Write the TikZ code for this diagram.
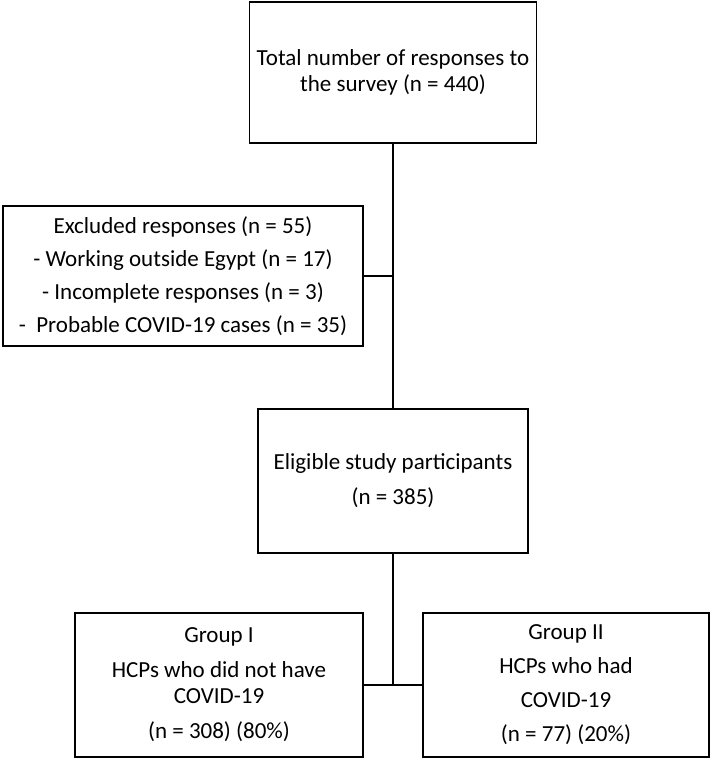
\documentclass[tikz,border=0pt]{standalone}
\usepackage{fontspec}
\setmainfont{Carlito}
\begin{document}
\begin{tikzpicture}[x=1pt,y=-1pt,
  boxnode/.style={draw=black, line width=1.6pt, align=center, inner sep=0pt,
    font=\fontsize{23}{26}\selectfont},
  link/.style={line width=1.6pt}]
\useasboundingbox (0,0) rectangle (712,759);
\node[boxnode, minimum width=287pt, minimum height=141pt] (top) at (393,72.5)
  {Total number of responses to\\the survey (n = 440)};
\node[boxnode, minimum width=360pt, minimum height=140pt] (excl) at (183,276)
  {Excluded responses (n = 55)\\[7pt]- Working outside Egypt (n = 17)\\[7pt]- Incomplete responses (n = 3)\\[7pt]-\ \ Probable COVID-19 cases (n = 35)};
\node[boxnode, minimum width=270pt, minimum height=144pt] (mid) at (393,481)
  {Eligible study participants\\[9pt](n = 385)};
\node[boxnode, minimum width=288pt, minimum height=144pt] (left) at (219,685)
  {Group I\\[9pt]HCPs who did not have\\COVID-19\\[9pt](n = 308) (80\%)};
\node[boxnode, minimum width=286pt, minimum height=144pt] (right) at (566,685)
  {Group II\\[8pt]HCPs who had\\[8pt]COVID-19\\[8pt](n = 77) (20\%)};
\draw[link] (top.south) -- (mid.north);
\coordinate (j1) at (excl.east -| top.south);
\draw[link] (excl.east) -- (j1);
\coordinate (j2) at (mid.south |- left.east);
\draw[link] (mid.south) -- (j2);
\draw[link] (left.east) -- (right.west);
\end{tikzpicture}
\end{document}
